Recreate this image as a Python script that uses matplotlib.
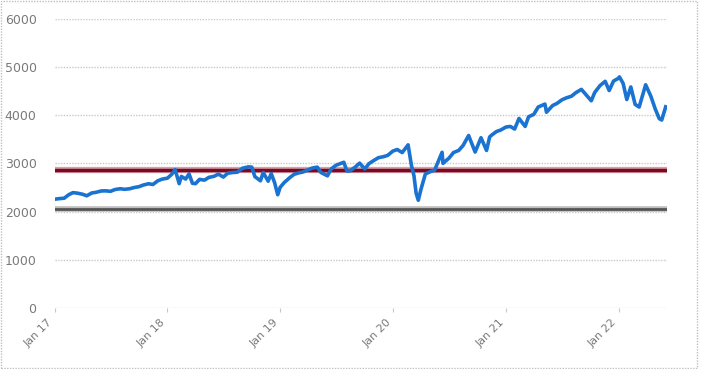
import matplotlib
matplotlib.use("Agg")
import matplotlib.pyplot as plt
import matplotlib.dates as mdates
import pandas as pd
from matplotlib.patches import Rectangle

# index level (approximate, semi-monthly plus turning points)
dates = [
    "2017-01-01", "2017-01-15", "2017-02-01", "2017-02-15", "2017-03-01", "2017-03-15",
    "2017-04-01", "2017-04-15", "2017-05-01", "2017-05-15", "2017-06-01", "2017-06-15",
    "2017-07-01", "2017-07-15", "2017-08-01", "2017-08-15", "2017-09-01", "2017-09-15",
    "2017-10-01", "2017-10-15", "2017-11-01", "2017-11-15", "2017-12-01", "2017-12-15",
    "2018-01-01", "2018-01-15", "2018-01-26", "2018-02-08", "2018-02-15", "2018-03-01",
    "2018-03-12", "2018-03-23", "2018-04-02", "2018-04-15", "2018-05-01", "2018-05-15",
    "2018-06-01", "2018-06-15", "2018-07-01", "2018-07-15", "2018-08-01", "2018-08-15",
    "2018-09-01", "2018-09-20", "2018-10-01", "2018-10-11", "2018-10-29", "2018-11-07",
    "2018-11-23", "2018-12-03", "2018-12-14", "2018-12-24", "2019-01-01", "2019-01-15",
    "2019-02-01", "2019-02-15", "2019-03-01", "2019-03-15", "2019-04-01", "2019-04-15",
    "2019-05-01", "2019-05-13", "2019-06-03", "2019-06-15", "2019-07-01", "2019-07-26",
    "2019-08-05", "2019-08-15", "2019-09-01", "2019-09-15", "2019-10-02", "2019-10-15",
    "2019-11-01", "2019-11-15", "2019-12-01", "2019-12-15", "2020-01-01", "2020-01-15",
    "2020-01-31", "2020-02-19", "2020-03-01", "2020-03-09", "2020-03-16", "2020-03-23",
    "2020-04-01", "2020-04-15", "2020-05-01", "2020-05-15", "2020-06-08", "2020-06-11",
    "2020-07-01", "2020-07-15", "2020-08-01", "2020-08-15", "2020-09-02", "2020-09-23",
    "2020-10-12", "2020-10-30", "2020-11-09", "2020-11-15", "2020-12-01", "2020-12-15",
    "2021-01-01", "2021-01-15", "2021-01-29", "2021-02-12", "2021-03-04", "2021-03-15",
    "2021-04-01", "2021-04-15", "2021-05-07", "2021-05-12", "2021-06-01", "2021-06-15",
    "2021-07-01", "2021-07-15", "2021-08-01", "2021-08-15", "2021-09-02", "2021-10-04",
    "2021-10-15", "2021-11-01", "2021-11-18", "2021-12-01", "2021-12-15", "2021-12-31",
    "2022-01-03", "2022-01-15", "2022-01-27", "2022-02-09", "2022-02-23", "2022-03-08",
    "2022-03-29", "2022-04-15", "2022-04-29", "2022-05-12", "2022-05-20", "2022-06-02",
]
values = [
    2258, 2270, 2280, 2350, 2395, 2385, 2362, 2330, 2388, 2402, 2430, 2432,
    2423, 2459, 2476, 2464, 2476, 2500, 2519, 2553, 2579, 2564, 2642, 2675,
    2695, 2776, 2872, 2581, 2731, 2677, 2783, 2588, 2582, 2670, 2654, 2711,
    2734, 2779, 2718, 2798, 2813, 2818, 2901, 2930, 2924, 2728, 2641, 2813,
    2633, 2790, 2600, 2351, 2507, 2610, 2706, 2775, 2803, 2822, 2867, 2905,
    2924, 2812, 2744, 2886, 2964, 3025, 2844, 2847, 2926, 3007, 2887, 2995,
    3066, 3120, 3140, 3168, 3258, 3289, 3226, 3386, 2954, 2746, 2386, 2237,
    2470, 2783, 2830, 2863, 3232, 3002, 3115, 3226, 3271, 3373, 3580, 3237,
    3534, 3270, 3550, 3585, 3662, 3694, 3756, 3768, 3714, 3934, 3768, 3968,
    4019, 4170, 4232, 4063, 4202, 4246, 4320, 4360, 4395, 4468, 4537, 4300,
    4471, 4613, 4704, 4513, 4709, 4766, 4796, 4662, 4326, 4587, 4225, 4170,
    4632, 4392, 4132, 3930, 3901, 4176,
]
upper_level = 2870
lower_level = 2050
yticks = [0, 1000, 2000, 3000, 4000, 5000, 6000]

x = pd.to_datetime(dates)

fig = plt.figure(figsize=(7.01, 3.69), dpi=100)
ax = fig.add_axes([0.078, 0.165, 0.873, 0.784])

for t in yticks:
    ax.axhline(t, color="#c8c8c8", linestyle=(0, (1, 1)), linewidth=1, zorder=1)

ax.axhline(lower_level, color="#bdbdbd", linewidth=4, zorder=2)
ax.axhline(lower_level, color="#555555", linewidth=2, zorder=2)
ax.axhline(upper_level, color="#d9a0aa", linewidth=4.5, zorder=2)
ax.axhline(upper_level, color="#7a0a22", linewidth=2.5, zorder=2)

ax.plot(x, values, color="#1a73d0", linewidth=2.6, zorder=3)

ax.set_ylim(0, 6000)
ax.set_xlim(pd.Timestamp("2017-01-01"), pd.Timestamp("2022-06-05"))
ax.set_yticks(yticks)
ax.xaxis.set_major_locator(mdates.YearLocator())
ax.xaxis.set_major_formatter(mdates.DateFormatter("%b %y"))

for s in ax.spines.values():
    s.set_visible(False)
ax.tick_params(axis="y", length=0, pad=13, labelsize=9, labelcolor="#7a7a7a")
ax.tick_params(axis="x", length=3, color="#c8c8c8", labelsize=8, labelcolor="#7a7a7a")
for lab in ax.get_xticklabels():
    lab.set_rotation(45)
    lab.set_ha("right")
    lab.set_va("top")

fig.patches.append(Rectangle((0.001, 0.004), 0.993, 0.994, transform=fig.transFigure,
                             fill=False, edgecolor="#c0c0c0", linestyle=(0, (1, 1)),
                             linewidth=1))

fig.savefig("out.png", dpi=100)
